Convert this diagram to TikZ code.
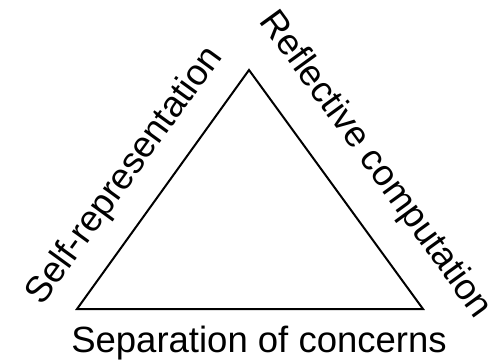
\documentclass[tikz,border=0pt]{standalone}
\usepackage{fontspec}
\setmainfont{Liberation Sans}
\begin{document}
\begin{tikzpicture}[x=1pt,y=1pt,
  edge/.style={draw=black,line width=2pt,line join=miter},
  lbl/.style={inner sep=0pt,font=\fontsize{36.5}{42}\selectfont}]
\useasboundingbox (0,0) rectangle (494,362);
\coordinate (top) at (249,292);
\coordinate (bl) at (77,53);
\coordinate (br) at (423,53);
\draw[edge] (top) -- (bl) -- (br) -- cycle;
\node[lbl,anchor=base] (sep) at (259,10) {Separation of concerns};
\node[lbl,rotate=54] (self) at (125,186) {Self-representation};
\node[lbl,rotate=-54] (refl) at (375,197) {Reflective computation};
\end{tikzpicture}
\end{document}
